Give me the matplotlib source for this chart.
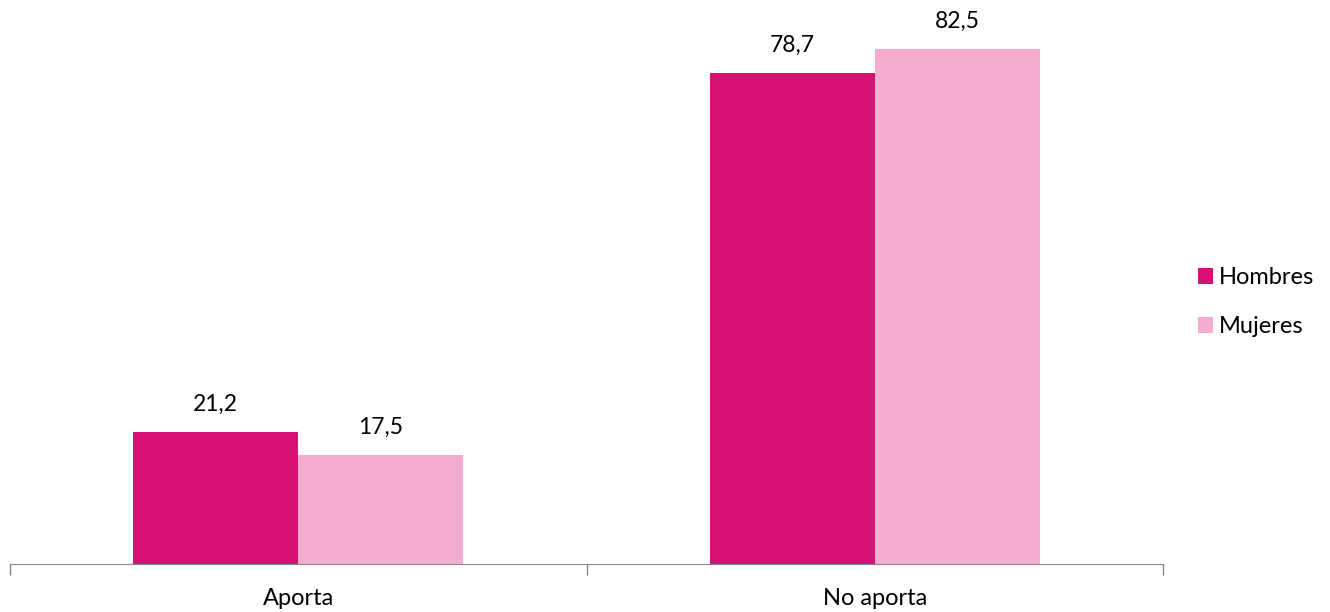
import matplotlib
matplotlib.use("Agg")
import matplotlib.pyplot as plt
import numpy as np

categorias = ['Aporta', 'No aporta']
hombres = [21.2, 78.7]
mujeres = [17.5, 82.5]

plt.rcParams['font.family'] = ['Lato', 'DejaVu Sans']

fig = plt.figure(figsize=(13.3, 6.12), dpi=100)
ax = fig.add_axes([10 / 1330, 48 / 612, 1153 / 1330, 562 / 612])

x = np.arange(len(categorias))
w = 0.286
b1 = ax.bar(x - w / 2, hombres, w, color='#D81174', label='Hombres')
b2 = ax.bar(x + w / 2, mujeres, w, color='#F5ADCF', label='Mujeres')

for bars, vals in [(b1, hombres), (b2, mujeres)]:
    for r, v in zip(bars, vals):
        ax.annotate(f'{v:.1f}'.replace('.', ','), (r.get_x() + r.get_width() / 2, v),
                    xytext=(0, 12), textcoords='offset points', ha='center', va='bottom',
                    fontsize=16.5)

ax.set_xlim(-0.5, 1.5)
ax.set_ylim(0, 90)
ax.set_xticks(x)
ax.set_xticklabels(categorias, fontsize=17)
ax.set_xticks([-0.5, 0.5, 1.5], minor=True)
ax.tick_params(axis='x', which='major', length=0, pad=17)
ax.tick_params(axis='x', which='minor', length=8, color='#878787', width=1)
ax.set_yticks([])
for s in ['top', 'right', 'left']:
    ax.spines[s].set_visible(False)
ax.spines['bottom'].set_color('#878787')

leg = ax.legend(loc='center left', bbox_to_anchor=(1.0115, 0.466), frameon=False,
                fontsize=17, handlelength=0.65, handleheight=0.65, handletextpad=0.25,
                labelspacing=1.2)

fig.savefig('out.png', dpi=100)
